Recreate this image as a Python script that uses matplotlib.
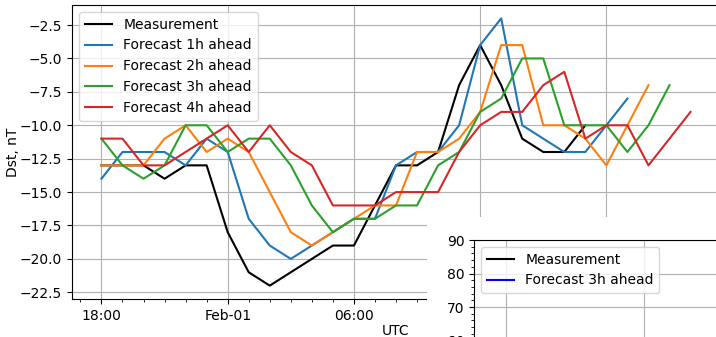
'''
Dst index: measurement vs. forecasts 1-4 hours ahead.
'''

import numpy as np
import pandas as pd
import matplotlib
matplotlib.use('Agg')
import matplotlib.pyplot as plt
import matplotlib.dates as mdates
from matplotlib.patches import Rectangle
from matplotlib.ticker import AutoMinorLocator, FuncFormatter

# hourly values starting 31 Jan 18:00 UTC
start = '2000-01-31 18:00'
measurement = [-13, -13, -13, -14, -13, -13, -18, -21, -22, -21, -20, -19,
               -19, -16, -13, -13, -12, -7, -4, -7, -11, -12, -12, -10]
forecast_1h = [-14, -12, -12, -12, -13, -11, -12, -17, -19, -20, -19, -18,
               -17, -17, -13, -12, -12, -10, -4, -2, -10, -11, -12, -12, -10, -8]
forecast_2h = [-13, -13, -13, -11, -10, -12, -11, -12, -15, -18, -19, -18,
               -17, -16, -16, -12, -12, -11, -9, -4, -4, -10, -10, -11, -13, -10, -7]
forecast_3h = [-11, -13, -14, -13, -10, -10, -12, -11, -11, -13, -16, -18,
               -17, -17, -16, -16, -13, -12, -9, -8, -5, -5, -10, -10, -10, -12, -10, -7]
forecast_4h = [-11, -11, -13, -13, -12, -11, -10, -12, -10, -12, -13, -16,
               -16, -16, -15, -15, -15, -12, -10, -9, -9, -7, -6, -11, -10, -10, -13, -11, -9]

series = [
    ('Measurement', measurement, 'k'),
    ('Forecast 1h ahead', forecast_1h, 'tab:blue'),
    ('Forecast 2h ahead', forecast_2h, 'tab:orange'),
    ('Forecast 3h ahead', forecast_3h, 'tab:green'),
    ('Forecast 4h ahead', forecast_4h, 'tab:red'),
]

W, H = 716, 337
fig = plt.figure(figsize=(W / 100, H / 100), dpi=100)

# main axes (runs slightly past the right edge of the picture)
ax = fig.add_axes([72 / W, 1 - 299 / H, 648 / W, 294 / H])
for label, vals, color in series:
    t = pd.date_range(start, periods=len(vals), freq='h')
    ax.plot(t, vals, color=color, label=label)

ax.set_ylabel('Dst, nT')
ax.yaxis.set_label_coords(-0.080, 0.5)
ax.set_xlabel('UTC', labelpad=1)
ax.grid(True)
ax.xaxis.set_major_locator(mdates.HourLocator(byhour=[0, 6, 12, 18]))
ax.xaxis.set_minor_locator(mdates.HourLocator())


def fmt_date(x, pos=None):
    d = mdates.num2date(x)
    if d.hour == 0:
        return d.strftime('%b-%d')
    return d.strftime('%H:%M')


ax.xaxis.set_major_formatter(FuncFormatter(fmt_date))
ax.legend(loc='upper left')

# white block that hides the lower right of the main plot
fig.patches.append(Rectangle((427 / W, 0), 1 - 427 / W, 1 - 217 / H,
                             transform=fig.transFigure, facecolor='white',
                             edgecolor='none', zorder=1))

# second panel, only its top-left corner is in view
ax2 = fig.add_axes([474 / W, -0.4, 326 / W, 0.4 + 1 - 240 / H])
ax2.set_zorder(2)
ax2.plot([], [], 'k', label='Measurement')
ax2.plot([], [], 'b', label='Forecast 3h ahead')
ax2.set_xticks([32, 170, 308])
ax2.set_yticks([10, 20, 30, 40, 50, 60, 70, 80, 90])
h2 = ax2.get_position().height * H
ax2.set_ylim(90 - h2 / 3.35, 90)
ax2.set_xlim(0, 326)
ax2.yaxis.set_minor_locator(AutoMinorLocator(5))
ax2.tick_params(labelbottom=False)
ax2.grid(True)
ax2.legend(loc='upper left')

plt.savefig('out.png', dpi=100)
